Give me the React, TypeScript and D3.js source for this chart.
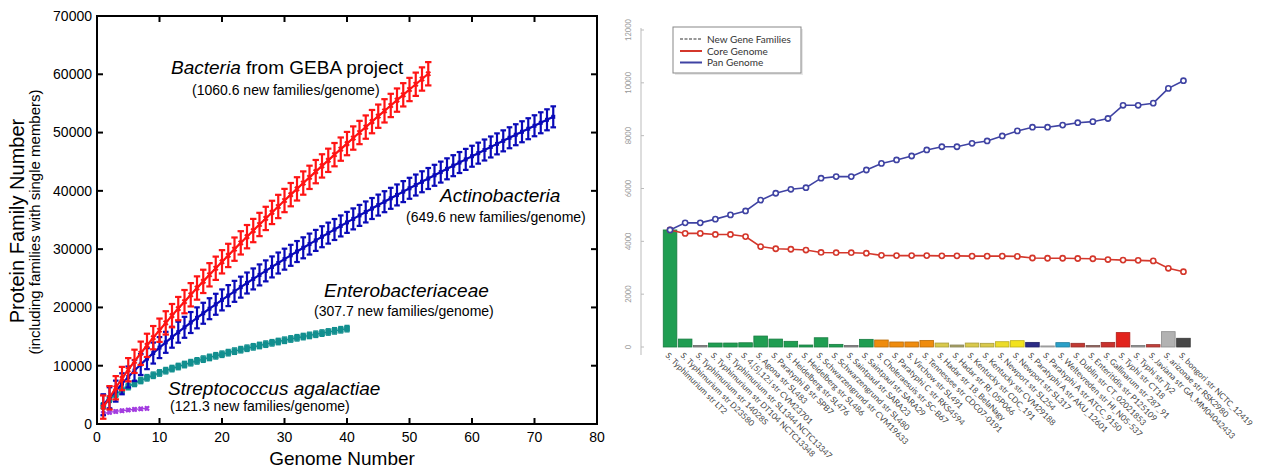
import React from 'react';
import * as d3 from 'd3';

// ---- left panel: protein family accumulation (mean per number of genomes) ----
const gebaBacteria = [2900, 4500, 6220, 7800, 9310, 10750, 12140, 13490, 14810, 16090,
  17350, 18590, 19800, 20990, 22170, 23330, 24470, 25600, 26720, 27830,
  28920, 30000, 31080, 32140, 33190, 34230, 35270, 36300, 37320, 38340,
  39350, 40340, 41340, 42320, 43300, 44280, 45240, 46210, 47160, 48110,
  49060, 50010, 50940, 51880, 52810, 53730, 54650, 55570, 56480, 57390,
  58290, 59190, 60090];
const actinobacteria = [3300, 4500, 5640, 6900, 8070, 9170, 10210, 11210, 12170, 13110,
  14010, 14890, 15750, 16590, 17410, 18210, 19000, 19780, 20540, 21290,
  22030, 22760, 23480, 24190, 24890, 25580, 26270, 26950, 27620, 28280,
  28940, 29590, 30230, 30870, 31500, 32130, 32750, 33370, 33980, 34590,
  35190, 35790, 36380, 36970, 37560, 38140, 38720, 39300, 39870, 40440,
  41000, 41560, 42120, 42670, 43220, 43780, 44320, 44860, 45400, 45940,
  46470, 47010, 47530, 48060, 48580, 49110, 49630, 50140, 50660, 51170,
  51680, 52190, 52700];
const enterobacteriaceae = [3110, 4250, 5100, 5800, 6420, 6970, 7470, 7930, 8360, 8760,
  9150, 9510, 9860, 10200, 10520, 10830, 11130, 11420, 11700, 11970,
  12240, 12500, 12750, 13000, 13240, 13470, 13700, 13930, 14150, 14370,
  14590, 14790, 15000, 15200, 15400, 15600, 15790, 15980, 16170, 16360];
const streptococcus = [1800, 2000, 2150, 2280, 2400, 2500, 2590, 2680];
const errGeba = 2000;
const errActino = 1800;
const errEntero = 550;
const errStrep = 250;

const leftXTicks = [0, 10, 20, 30, 40, 50, 60, 70, 80];
const leftYTicks = [0, 10000, 20000, 30000, 40000, 50000, 60000, 70000];

// ---- right panel: Salmonella pan / core genome ----
const strains = [
  'S. Typhimurium str LT2', 'S. Typhimurium str D23580', 'S. Typhimurium str 14028S',
  'S. Typhimurium str DT104 NCTC13348', 'S. Typhimurium str SL1344 NCTC13347',
  'S. 4,[5],12:i str CVM23701', 'S. Agona str SL483', 'S. Paratyphi B str SPB7',
  'S. Heidelberg str SL476', 'S. Heidelberg str SL486', 'S. Schwarzengrund str CVM19633',
  'S. Schwarzengrund str SL480', 'S. Saintpaul str SARA23', 'S. Saintpaul str SARA29',
  'S. Choleraesuis str SC-B67', 'S. Paratyphi C str RKS4594', 'S. Virchow str SL491',
  'S. Tennessee str CDC07-0191', 'S. Hadar str 18_BelaNagy', 'S. Hadar str RI_05P066',
  'S. Kentucky str CDC_191', 'S. Kentucky str CVM29188', 'S. Newport str SL254',
  'S. Newport str SL317', 'S. Paratyphi A str AKU_12601', 'S. Paratyphi A str ATCC_9150',
  'S. Weltevreden str HI_N05-537', 'S. Dublin str CT_02021853', 'S. Enteritidis str P125109',
  'S. Gallinarum str 287_91', 'S. Typhi str CT18', 'S. Typhi str Ty2',
  'S. Javiana str GA_MM04042433', 'S. arizonae str RSK2980', 'S. bongori str NCTC_12419',
];
const newFamilies = [4430, 300, 60, 150, 150, 160, 415, 300, 215, 75, 350, 100, 60, 290,
  265, 190, 190, 250, 150, 75, 150, 140, 200, 240, 175, 40, 165, 140, 60, 175, 545, 60, 90, 580, 330];
const coreGenome = [4430, 4300, 4300, 4260, 4260, 4180, 3800, 3720, 3700, 3670, 3580, 3570,
  3570, 3550, 3470, 3460, 3460, 3460, 3450, 3450, 3440, 3440, 3440, 3430, 3370, 3360, 3360,
  3350, 3340, 3310, 3290, 3280, 3260, 2980, 2850];
const panGenome = [4430, 4700, 4700, 4840, 5000, 5150, 5560, 5820, 5970, 6030, 6390, 6450,
  6450, 6700, 6950, 7080, 7230, 7460, 7580, 7580, 7710, 7800, 7990, 8180, 8320, 8320, 8400,
  8490, 8530, 8650, 9150, 9150, 9230, 9790, 10080];
const barColors = ['#1f9e52', '#1f9e52', '#8a8a8a', '#1f9e52', '#1f9e52', '#1f9e52', '#1f9e52',
  '#1f9e52', '#1f9e52', '#1f9e52', '#1f9e52', '#1f9e52', '#8a8a8a', '#1f9e52',
  '#ef8c0e', '#ef8c0e', '#ef8c0e', '#ef8c0e', '#d9c94c', '#aba56a', '#d9c94c', '#d9c94c',
  '#ecdc2a', '#f2e21e', '#2c2c86', '#bdbdbd', '#2ba0c8', '#c23a33', '#9a6c66', '#c9322e',
  '#e2231d', '#9a9a9a', '#c2403c', '#b2b2b2', '#474747'];
const rightYTicks = [0, 2000, 4000, 6000, 8000, 10000, 12000];

const ARIAL = "'Liberation Sans', Arial, sans-serif";
const MYRIAD = "Lato, 'Open Sans', sans-serif";

const lx = d3.scaleLinear().domain([0, 80]).range([97, 597]);
const ly = d3.scaleLinear().domain([0, 70000]).range([424, 16]);
const rx = d3.scaleBand<string>().domain(strains).range([662.5, 1191]).paddingInner(0.1).paddingOuter(0.05);
const ry = d3.scaleLinear().domain([0, 12000]).range([347, 30]);

function Curve({ values, err, color, width, capW, marker }: any) {
  const line = d3.line<number>().x((d, i) => lx(i + 1)).y(d => ly(d));
  const sym = d3.symbol().type(marker.type).size(marker.size)();
  return (
    <g>
      <path d={line(values) || ''} fill="none" stroke={color} strokeWidth={width} />
      {values.map((v: number, i: number) => {
        const x = lx(i + 1);
        return (
          <g key={i}>
            <line x1={x} x2={x} y1={ly(v - err)} y2={ly(v + err)} stroke={color} strokeWidth={width} />
            <line x1={x - capW} x2={x + capW} y1={ly(v + err)} y2={ly(v + err)} stroke={color} strokeWidth={width} />
            <line x1={x - capW} x2={x + capW} y1={ly(v - err)} y2={ly(v - err)} stroke={color} strokeWidth={width} />
            <path d={sym || ''} transform={`translate(${x},${ly(v)})${marker.rotate ? ' rotate(45)' : ''}`} fill={color} />
          </g>
        );
      })}
    </g>
  );
}

function LeftPanel() {
  return (
    <g fontFamily={ARIAL}>
      <Curve values={enterobacteriaceae} err={errEntero} color="#128f8f" width={1.4} capW={2.5} marker={{ type: d3.symbolSquare, size: 34 }} />
      <Curve values={streptococcus} err={errStrep} color="#a33ce0" width={1.3} capW={2} marker={{ type: d3.symbolCross, size: 20, rotate: true }} />
      <Curve values={actinobacteria} err={errActino} color="#0a0ab8" width={2.2} capW={2.8} marker={{ type: d3.symbolSquare, size: 16 }} />
      <Curve values={gebaBacteria} err={errGeba} color="#ff1414" width={2.2} capW={3.2} marker={{ type: d3.symbolCross, size: 20, rotate: true }} />

      <rect x={97} y={16} width={500} height={408} fill="none" stroke="#000" strokeWidth={2} />
      {leftXTicks.map(t => (
        <g key={t}>
          <line x1={lx(t)} x2={lx(t)} y1={424} y2={418} stroke="#000" strokeWidth={2} />
          <line x1={lx(t)} x2={lx(t)} y1={16} y2={22} stroke="#000" strokeWidth={2} />
          <text x={lx(t)} y={442} textAnchor="middle" fontSize={14}>{t}</text>
        </g>
      ))}
      {leftYTicks.map(t => (
        <g key={t}>
          <line x1={97} x2={103} y1={ly(t)} y2={ly(t)} stroke="#000" strokeWidth={2} />
          <line x1={597} x2={591} y1={ly(t)} y2={ly(t)} stroke="#000" strokeWidth={2} />
          <text x={92} y={ly(t)} dy="0.35em" textAnchor="end" fontSize={14}>{t}</text>
        </g>
      ))}
      <text x={342} y={465} textAnchor="middle" fontSize={19}>Genome Number</text>
      <text transform="translate(24,221) rotate(-90)" textAnchor="middle" fontSize={20}>Protein Family Number</text>
      <text transform="translate(40,222) rotate(-90)" textAnchor="middle" fontSize={15}>(including families with single members)</text>

      <text x={171} y={74} fontSize={19}><tspan fontStyle="italic">Bacteria</tspan> from GEBA project</text>
      <text x={192} y={95} fontSize={14}>(1060.6 new families/genome)</text>
      <text x={440} y={202} fontSize={19} fontStyle="italic">Actinobacteria</text>
      <text x={406} y={222} fontSize={14}>(649.6 new families/genome)</text>
      <text x={324} y={297} fontSize={19} fontStyle="italic">Enterobacteriaceae</text>
      <text x={314} y={316} fontSize={14}>(307.7 new families/genome)</text>
      <text x={168} y={395} fontSize={19} fontStyle="italic">Streptococcus agalactiae</text>
      <text x={170} y={411} fontSize={14}>(121.3 new families/genome)</text>
    </g>
  );
}

function RightPanel() {
  const cx = (i: number) => (rx(strains[i]) || 0) + rx.bandwidth() / 2;
  const line = d3.line<number>().x((d, i) => cx(i)).y(d => ry(d));
  const series = [
    { values: coreGenome, color: '#d4372b' },
    { values: panGenome, color: '#3f43a3' },
  ];
  return (
    <g>
      <line x1={641} x2={641} y1={28} y2={355} stroke="#bbb" strokeWidth={1} />
      {rightYTicks.map(t => (
        <g key={t}>
          <line x1={641} x2={644} y1={ry(t)} y2={ry(t)} stroke="#bbb" />
          <text transform={`translate(631,${ry(t)}) rotate(-90)`} textAnchor="middle" fontSize={7.5}
            fill="#999" fontFamily={MYRIAD}>{t}</text>
        </g>
      ))}
      {strains.map((s, i) => (
        <rect key={s} x={rx(s)} y={ry(newFamilies[i])} width={rx.bandwidth()}
          height={ry(0) - ry(newFamilies[i])} fill={barColors[i]}
          stroke={d3.color(barColors[i])!.darker(0.7).formatHex()} strokeWidth={0.8} />
      ))}
      {series.map(sr => (
        <g key={sr.color}>
          <path d={line(sr.values) || ''} fill="none" stroke={sr.color} strokeWidth={1.6} />
          {sr.values.map((v, i) => (
            <circle key={i} cx={cx(i)} cy={ry(v)} r={2.6} fill="#fff" stroke={sr.color} strokeWidth={1.6} />
          ))}
        </g>
      ))}
      {strains.map((s, i) => (
        <text key={s} transform={`translate(${cx(i) - 3},${354}) rotate(45)`} dy="0.35em"
          fontSize={8.3} fill="#444" fontFamily={MYRIAD}>{s}</text>
      ))}

      <rect x={675} y={29} width={128} height={46} fill="#e8e8e8" />
      <rect x={673} y={27} width={128} height={46} fill="#fff" stroke="#888" strokeWidth={1} />
      <line x1={680} x2={702} y1={39} y2={39} stroke="#333" strokeWidth={1.2} strokeDasharray="3 1.5" />
      <line x1={680} x2={702} y1={51} y2={51} stroke="#d4372b" strokeWidth={2} />
      <line x1={680} x2={702} y1={62.5} y2={62.5} stroke="#3f43a3" strokeWidth={2} />
      <g fontFamily={MYRIAD} fontSize={10} fill="#333">
        <text x={707} y={39} dy="0.35em">New Gene Families</text>
        <text x={707} y={51} dy="0.35em">Core Genome</text>
        <text x={707} y={62.5} dy="0.35em">Pan Genome</text>
      </g>
    </g>
  );
}

export default function App() {
  return (
    <svg width={1261} height={470} style={{ position: 'absolute', left: 0, top: 0, background: '#fff' }}>
      <LeftPanel />
      <RightPanel />
    </svg>
  );
}
